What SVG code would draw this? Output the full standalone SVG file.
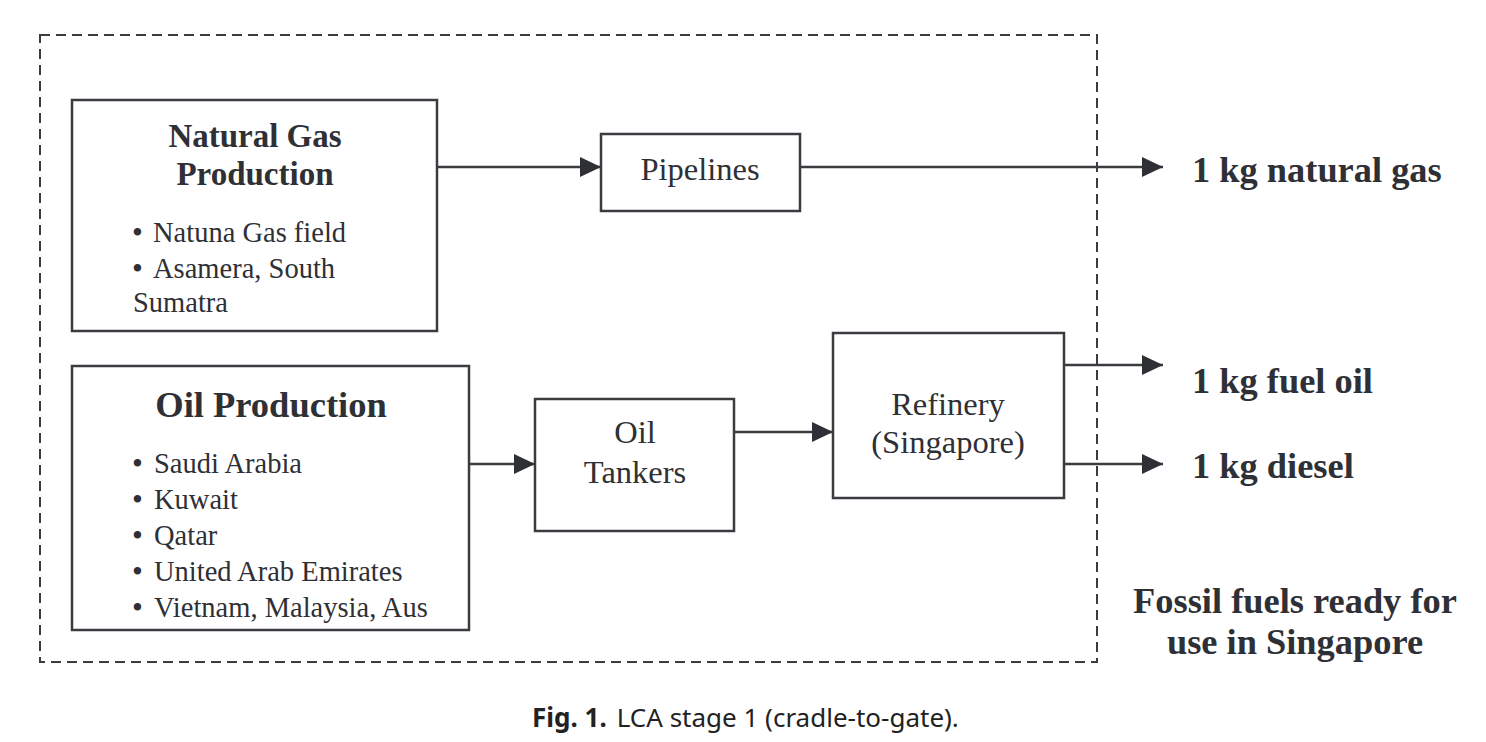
<svg xmlns="http://www.w3.org/2000/svg" width="1486" height="742" viewBox="0 0 1486 742">
<defs>
<marker id="arr" markerWidth="22" markerHeight="22" refX="21" refY="10" orient="auto" markerUnits="userSpaceOnUse">
<path d="M0,0 L21,10 L0,20 Z" fill="#2e3035"/>
</marker>
<style>
.box{fill:#fff;stroke:#3a3c40;stroke-width:2.5}
.bnd{fill:none;stroke:#3a3c40;stroke-width:2;stroke-dasharray:10 6}
.ln{fill:none;stroke:#3a3c40;stroke-width:2.5}
.t{font-family:"Liberation Serif","Times New Roman",serif;fill:#2e3035}
.tb{font-family:"Liberation Serif","Times New Roman",serif;fill:#2e3035;font-weight:bold}
.lab{font-size:32.5px;text-anchor:middle}
.bul{font-size:28.5px}
.dot{font-size:31px}
.out{font-size:36.4px}
.cap{font-family:"Noto Sans","Open Sans",sans-serif;fill:#222;font-size:26px}
</style>
</defs>
<rect width="1486" height="742" fill="#fff"/>
<rect id="boundary" class="bnd" x="40" y="35" width="1057" height="627"/>
<g id="connectors">
<line class="ln" x1="437" y1="167" x2="601" y2="167" marker-end="url(#arr)"/>
<line class="ln" x1="800" y1="167" x2="1163" y2="167" marker-end="url(#arr)"/>
<line class="ln" x1="469" y1="464" x2="535" y2="464" marker-end="url(#arr)"/>
<line class="ln" x1="734" y1="432" x2="833" y2="432" marker-end="url(#arr)"/>
<line class="ln" x1="1064" y1="365" x2="1163" y2="365" marker-end="url(#arr)"/>
<line class="ln" x1="1064" y1="464" x2="1163" y2="464" marker-end="url(#arr)"/>
</g>
<g id="ng">
<rect class="box" x="72" y="100" width="365" height="231"/>
<text class="tb" x="255" y="147" font-size="33" text-anchor="middle">Natural Gas</text>
<text class="tb" x="255" y="185" font-size="33" text-anchor="middle">Production</text>
<text class="t bul" y="242"><tspan class="dot" x="132" dy="1">•</tspan><tspan x="153" dy="-1">Natuna Gas field</tspan></text>
<text class="t bul" y="278"><tspan class="dot" x="132" dy="1">•</tspan><tspan x="153" dy="-1">Asamera, South</tspan></text>
<text class="t bul" x="133" y="312">Sumatra</text>
</g>
<g id="oil">
<rect class="box" x="72" y="366" width="397" height="264"/>
<text class="tb" x="271" y="417" font-size="36.5" text-anchor="middle">Oil Production</text>
<text class="t bul" y="473"><tspan class="dot" x="132" dy="1">•</tspan><tspan x="154" dy="-1">Saudi Arabia</tspan></text>
<text class="t bul" y="509"><tspan class="dot" x="132" dy="1">•</tspan><tspan x="154" dy="-1">Kuwait</tspan></text>
<text class="t bul" y="545"><tspan class="dot" x="132" dy="1">•</tspan><tspan x="154" dy="-1">Qatar</tspan></text>
<text class="t bul" y="581"><tspan class="dot" x="132" dy="1">•</tspan><tspan x="154" dy="-1">United Arab Emirates</tspan></text>
<text class="t bul" y="617"><tspan class="dot" x="132" dy="1">•</tspan><tspan x="154" dy="-1">Vietnam, Malaysia, Aus</tspan></text>
</g>
<g id="pipelines">
<rect class="box" x="601" y="134" width="199" height="77"/>
<text class="t lab" x="700" y="180">Pipelines</text>
</g>
<g id="tankers">
<rect class="box" x="535" y="399" width="199" height="132"/>
<text class="t lab" x="635" y="443">Oil</text>
<text class="t lab" x="635" y="483">Tankers</text>
</g>
<g id="refinery">
<rect class="box" x="833" y="333" width="231" height="165"/>
<text class="t lab" x="948" y="415">Refinery</text>
<text class="t lab" x="948" y="453">(Singapore)</text>
</g>
<g id="outputs">
<text class="tb out" x="1192" y="182">1 kg natural gas</text>
<text class="tb out" x="1192" y="393">1 kg fuel oil</text>
<text class="tb out" x="1192" y="478">1 kg diesel</text>
<text class="tb out" x="1295" y="613" text-anchor="middle">Fossil fuels ready for</text>
<text class="tb out" x="1295" y="654" text-anchor="middle">use in Singapore</text>
</g>
<text class="cap" x="532" y="727"><tspan font-weight="bold">Fig. 1.</tspan><tspan dx="10">LCA stage 1 (cradle-to-gate).</tspan></text>
</svg>
